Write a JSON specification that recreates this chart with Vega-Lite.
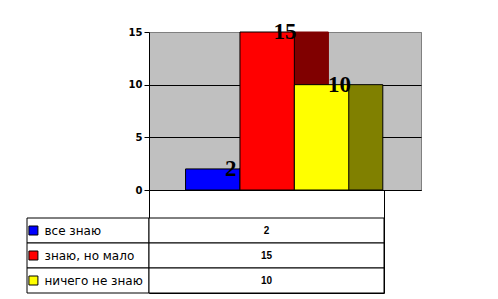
{
  "$schema": "https://vega.github.io/schema/vega-lite/v6.json",
  "padding": {"left": 26, "top": 20, "right": 0, "bottom": 0},
  "columns": 2,
  "spacing": 0,
  "bounds": "flush",
  "datasets": {
    "d": [
      {"cat": "все знаю", "value": 2},
      {"cat": "знаю, но мало", "value": 15},
      {"cat": "ничего не знаю", "value": 10}
    ]
  },
  "config": {"view": {"stroke": null}, "font": "DejaVu Sans"},
  "concat": [
    {"width": 122, "height": 158, "data": {"values": []}, "mark": "point", "encoding": {}},
    {
      "width": 272, "height": 158,
      "data": {"name": "d"},
      "view": {"fill": "#c0c0c0", "stroke": "#808080"},
      "encoding": {
        "x": {"field": "cat", "type": "nominal", "sort": null,
              "scale": {"paddingInner": 0, "paddingOuter": 1.09, "align": 0.336},
              "axis": {"labels": false, "ticks": false, "title": null, "domainColor": "black", "grid": false}},
        "y": {"field": "value", "type": "quantitative",
              "scale": {"domain": [0, 15], "nice": false},
              "axis": {"values": [0, 5, 10, 15], "title": null, "domainColor": "black", "tickColor": "black",
                       "tickSize": 5, "labelPadding": 2, "labelFont": "DejaVu Sans", "labelFontWeight": "bold",
                       "labelFontSize": 10, "labelColor": "black",
                       "gridColor": {"condition": {"test": "datum.value == 15", "value": "#808080"}, "value": "black"},
                       "gridOpacity": 1}}
      },
      "layer": [
        {
          "mark": {"type": "bar", "width": 35, "xOffset": 43.75, "strokeWidth": 1},
          "encoding": {
            "color": {"field": "cat", "type": "nominal", "sort": null,
                      "scale": {"range": ["#000080", "#800000", "#808000"]}, "legend": null},
            "stroke": {"field": "cat", "type": "nominal", "sort": null,
                       "scale": {"range": ["#000080", "#800000", "#000000"]}, "legend": null}
          }
        },
        {
          "mark": {"type": "bar", "stroke": "black", "strokeWidth": 1},
          "encoding": {
            "color": {"field": "cat", "type": "nominal", "sort": null,
                      "scale": {"range": ["#0000ff", "#ff0000", "#ffff00"]}, "legend": null}
          }
        },
        {
          "mark": {"type": "text", "font": "Liberation Serif", "fontWeight": "bold", "fontSize": 23, "baseline": "middle", "color": "black"},
          "encoding": {
            "x": {"field": "cat", "type": "nominal", "sort": null, "bandPosition": 0.83},
            "text": {"field": "value", "type": "quantitative"}
          }
        }
      ],
      "resolve": {"scale": {"color": "independent", "stroke": "independent"}}
    },
    {
      "width": 122, "height": 103,
      "data": {"name": "d"},
      "encoding": {
        "y": {"field": "cat", "type": "nominal", "sort": null,
              "scale": {"paddingInner": 0, "paddingOuter": 0.56, "align": 1},
              "axis": {"orient": "left", "title": null, "ticks": false, "domain": false, "grid": false,
                       "labelAlign": "left", "labelBaseline": "middle", "labelPadding": -17, "labelLimit": 0,
                       "labelFont": "DejaVu Sans", "labelFontSize": 12, "labelColor": "black", "zindex": 1}}
      },
      "layer": [
        {"mark": {"type": "bar", "fill": "white", "stroke": "black", "strokeWidth": 1}},
        {
          "mark": {"type": "point", "shape": "square", "filled": true, "size": 81, "stroke": "black", "strokeWidth": 1, "opacity": 1},
          "encoding": {
            "x": {"datum": "sw", "type": "nominal",
                  "scale": {"type": "point", "domain": ["sw", "tx"], "padding": 7.125, "align": 0.0789}, "axis": null},
            "color": {"field": "cat", "type": "nominal", "sort": null,
                      "scale": {"range": ["#0000ff", "#ff0000", "#ffff00"]}, "legend": null}
          }
        }
      ]
    },
    {
      "width": 235, "height": 103,
      "data": {"name": "d"},
      "view": {"stroke": "black", "strokeWidth": 1},
      "encoding": {
        "y": {"field": "cat", "type": "nominal", "sort": null,
              "scale": {"paddingInner": 0, "paddingOuter": 0.56, "align": 1}, "axis": null}
      },
      "layer": [
        {"mark": {"type": "bar", "fill": "white", "stroke": "black", "strokeWidth": 1}},
        {
          "mark": {"type": "text", "baseline": "middle", "font": "Liberation Sans", "fontWeight": "bold", "fontSize": 10, "color": "black"},
          "encoding": {"text": {"field": "value", "type": "quantitative"}}
        }
      ]
    }
  ]
}
